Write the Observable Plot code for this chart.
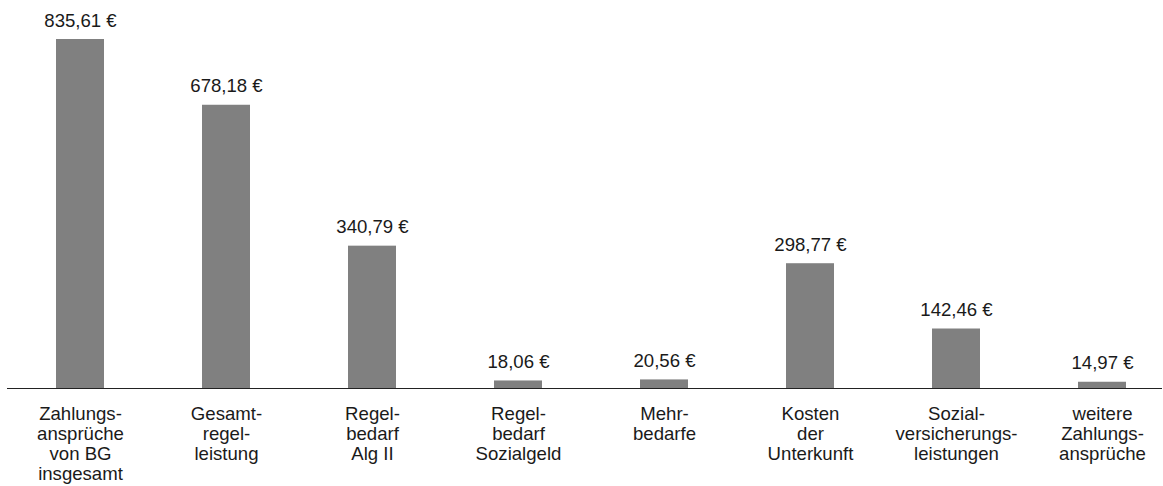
<!DOCTYPE html>
<html>
<head>
<meta charset="utf-8">
<script src="https://cdn.jsdelivr.net/npm/d3@7"></script>
<script src="https://cdn.jsdelivr.net/npm/@observablehq/plot@0.6"></script>
<style>
  html, body { margin: 0; padding: 0; background: #fff; }
  #chart svg { display: block; }
</style>
</head>
<body>
<div id="chart"></div>
<script>
const categories = [
  "Zahlungs-\nansprüche\nvon BG\ninsgesamt",
  "Gesamt-\nregel-\nleistung",
  "Regel-\nbedarf\nAlg II",
  "Regel-\nbedarf\nSozialgeld",
  "Mehr-\nbedarfe",
  "Kosten\nder\nUnterkunft",
  "Sozial-\nversicherungs-\nleistungen",
  "weitere\nZahlungs-\nansprüche"
];
const values = [835.61, 678.18, 340.79, 18.06, 20.56, 298.77, 142.46, 14.97];

const data = categories.map((c, i) => ({category: c, value: values[i]}));
const fmt = v => v.toFixed(2).replace(".", ",") + " €";

const chart = Plot.plot({
  width: 1163,
  height: 486,
  marginTop: 39,
  marginBottom: 98,
  marginLeft: 7,
  marginRight: 1,
  style: {
    fontFamily: "'Liberation Sans', Arial, sans-serif",
    fontSize: "18.6px",
    color: "#1a1a1a",
    background: "#fff"
  },
  x: {
    domain: categories,
    range: [7, 1175],
    paddingInner: 0.668,
    paddingOuter: 0.334,
    align: 0.5,
    label: null
  },
  y: {
    domain: [0, 835.61],
    axis: null
  },
  marks: [
    Plot.barY(data, {x: "category", y: "value", fill: "#808080"}),
    Plot.ruleY([0], {stroke: "#222", strokeWidth: 1.2}),
    Plot.text(data, {
      x: "category",
      y: "value",
      text: d => fmt(d.value),
      lineAnchor: "bottom",
      dy: -13,
      fill: "#1a1a1a"
    }),
    Plot.axisX({
      tickSize: 0,
      tickPadding: 17,
      lineHeight: 1.08,
      label: null,
      fill: "#1a1a1a"
    })
  ]
});
document.getElementById("chart").appendChild(chart);
</script>
</body>
</html>
